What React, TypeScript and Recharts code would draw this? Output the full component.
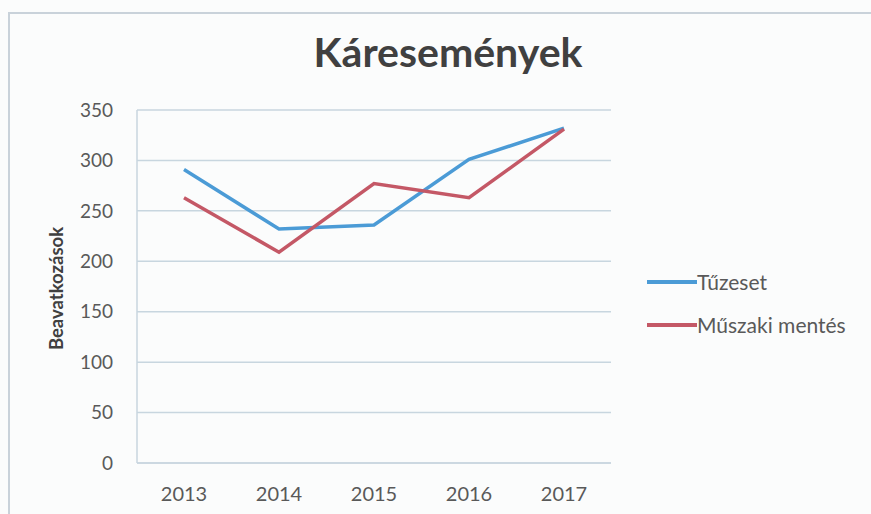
import { LineChart, Line, XAxis, YAxis, CartesianGrid } from 'recharts';

const years = ['2013', '2014', '2015', '2016', '2017'];
const tuzeset = [291, 232, 236, 301, 332];
const muszakiMentes = [263, 209, 277, 263, 331];
const yTicks = [0, 50, 100, 150, 200, 250, 300, 350];

const seriesNames = { tuzeset: 'Tűzeset', muszaki: 'Műszaki mentés' };
const colors = { tuzeset: '#4b9bd6', muszaki: '#c45866' };

const data = years.map((year, i) => ({
  year,
  tuzeset: tuzeset[i],
  muszaki: muszakiMentes[i],
}));

const FONT = 'Lato, "Open Sans", sans-serif';
const GRID = '#c8d6df';

// forgatott tengelycím
function YLabel(props: any) {
  const { viewBox } = props;
  const x = viewBox.x + 56;
  const y = viewBox.y + viewBox.height / 2 + 2;
  return (
    <text
      x={x}
      y={y}
      transform={`rotate(-90, ${x}, ${y})`}
      textAnchor="middle"
      dominantBaseline="central"
      fontFamily={FONT}
      fontWeight="bold"
      fontSize={18.5}
      fill="#404040"
    >
      Beavatkozások
    </text>
  );
}

const legendItems = [
  { name: seriesNames.tuzeset, color: colors.tuzeset },
  { name: seriesNames.muszaki, color: colors.muszaki },
];

export default function App() {
  return (
    <div
      style={{
        position: 'absolute',
        left: 0,
        top: 0,
        width: 871,
        height: 514,
        overflow: 'hidden',
        background: '#fbfcfc',
      }}
    >
      {/* keret */}
      <div
        style={{
          position: 'absolute',
          left: 8,
          top: 12,
          width: 900,
          height: 600,
          border: '2px solid #c9d2da',
        }}
      />
      <div
        style={{
          position: 'absolute',
          left: 0,
          width: 896,
          top: 27,
          textAlign: 'center',
          fontFamily: FONT,
          fontWeight: 'bold',
          fontSize: 41,
          color: '#404040',
        }}
      >
        Káresemények
      </div>
      <div style={{ position: 'absolute', left: 0, top: 0 }}>
        <LineChart width={871} height={514} data={data} margin={{ top: 110, right: 260, bottom: 1, left: 0 }}>
          <CartesianGrid vertical={false} stroke={GRID} strokeWidth={1.5} />
          <XAxis
            dataKey="year"
            height={50}
            interval={0}
            padding={{ left: 47, right: 47 }}
            axisLine={{ stroke: GRID, strokeWidth: 1.5 }}
            tickLine={false}
            tickSize={0}
            tickMargin={24}
            tick={{ fontFamily: FONT, fontSize: 20, fill: '#595959' }}
          />
          <YAxis
            width={137}
            domain={[0, 350]}
            ticks={yTicks}
            interval={0}
            axisLine={{ stroke: GRID, strokeWidth: 1.5 }}
            tickLine={false}
            tickSize={0}
            tickMargin={24}
            tick={{ fontFamily: FONT, fontSize: 19, fill: '#595959' }}
            label={<YLabel />}
          />
          <Line
            type="linear"
            dataKey="tuzeset"
            name={seriesNames.tuzeset}
            stroke={colors.tuzeset}
            strokeWidth={3.5}
            dot={false}
            isAnimationActive={false}
          />
          <Line
            type="linear"
            dataKey="muszaki"
            name={seriesNames.muszaki}
            stroke={colors.muszaki}
            strokeWidth={3.5}
            dot={false}
            isAnimationActive={false}
          />
        </LineChart>
      </div>
      {/* jelmagyarázat */}
      <div
        style={{
          position: 'absolute',
          left: 647,
          top: 260,
          fontFamily: FONT,
          fontSize: 21,
          color: '#595959',
        }}
      >
        {legendItems.map((it) => (
          <div key={it.name} style={{ display: 'flex', alignItems: 'center', height: 43 }}>
            <span style={{ display: 'inline-block', width: 50, height: 4, background: it.color }} />
            <span>{it.name}</span>
          </div>
        ))}
      </div>
    </div>
  );
}
